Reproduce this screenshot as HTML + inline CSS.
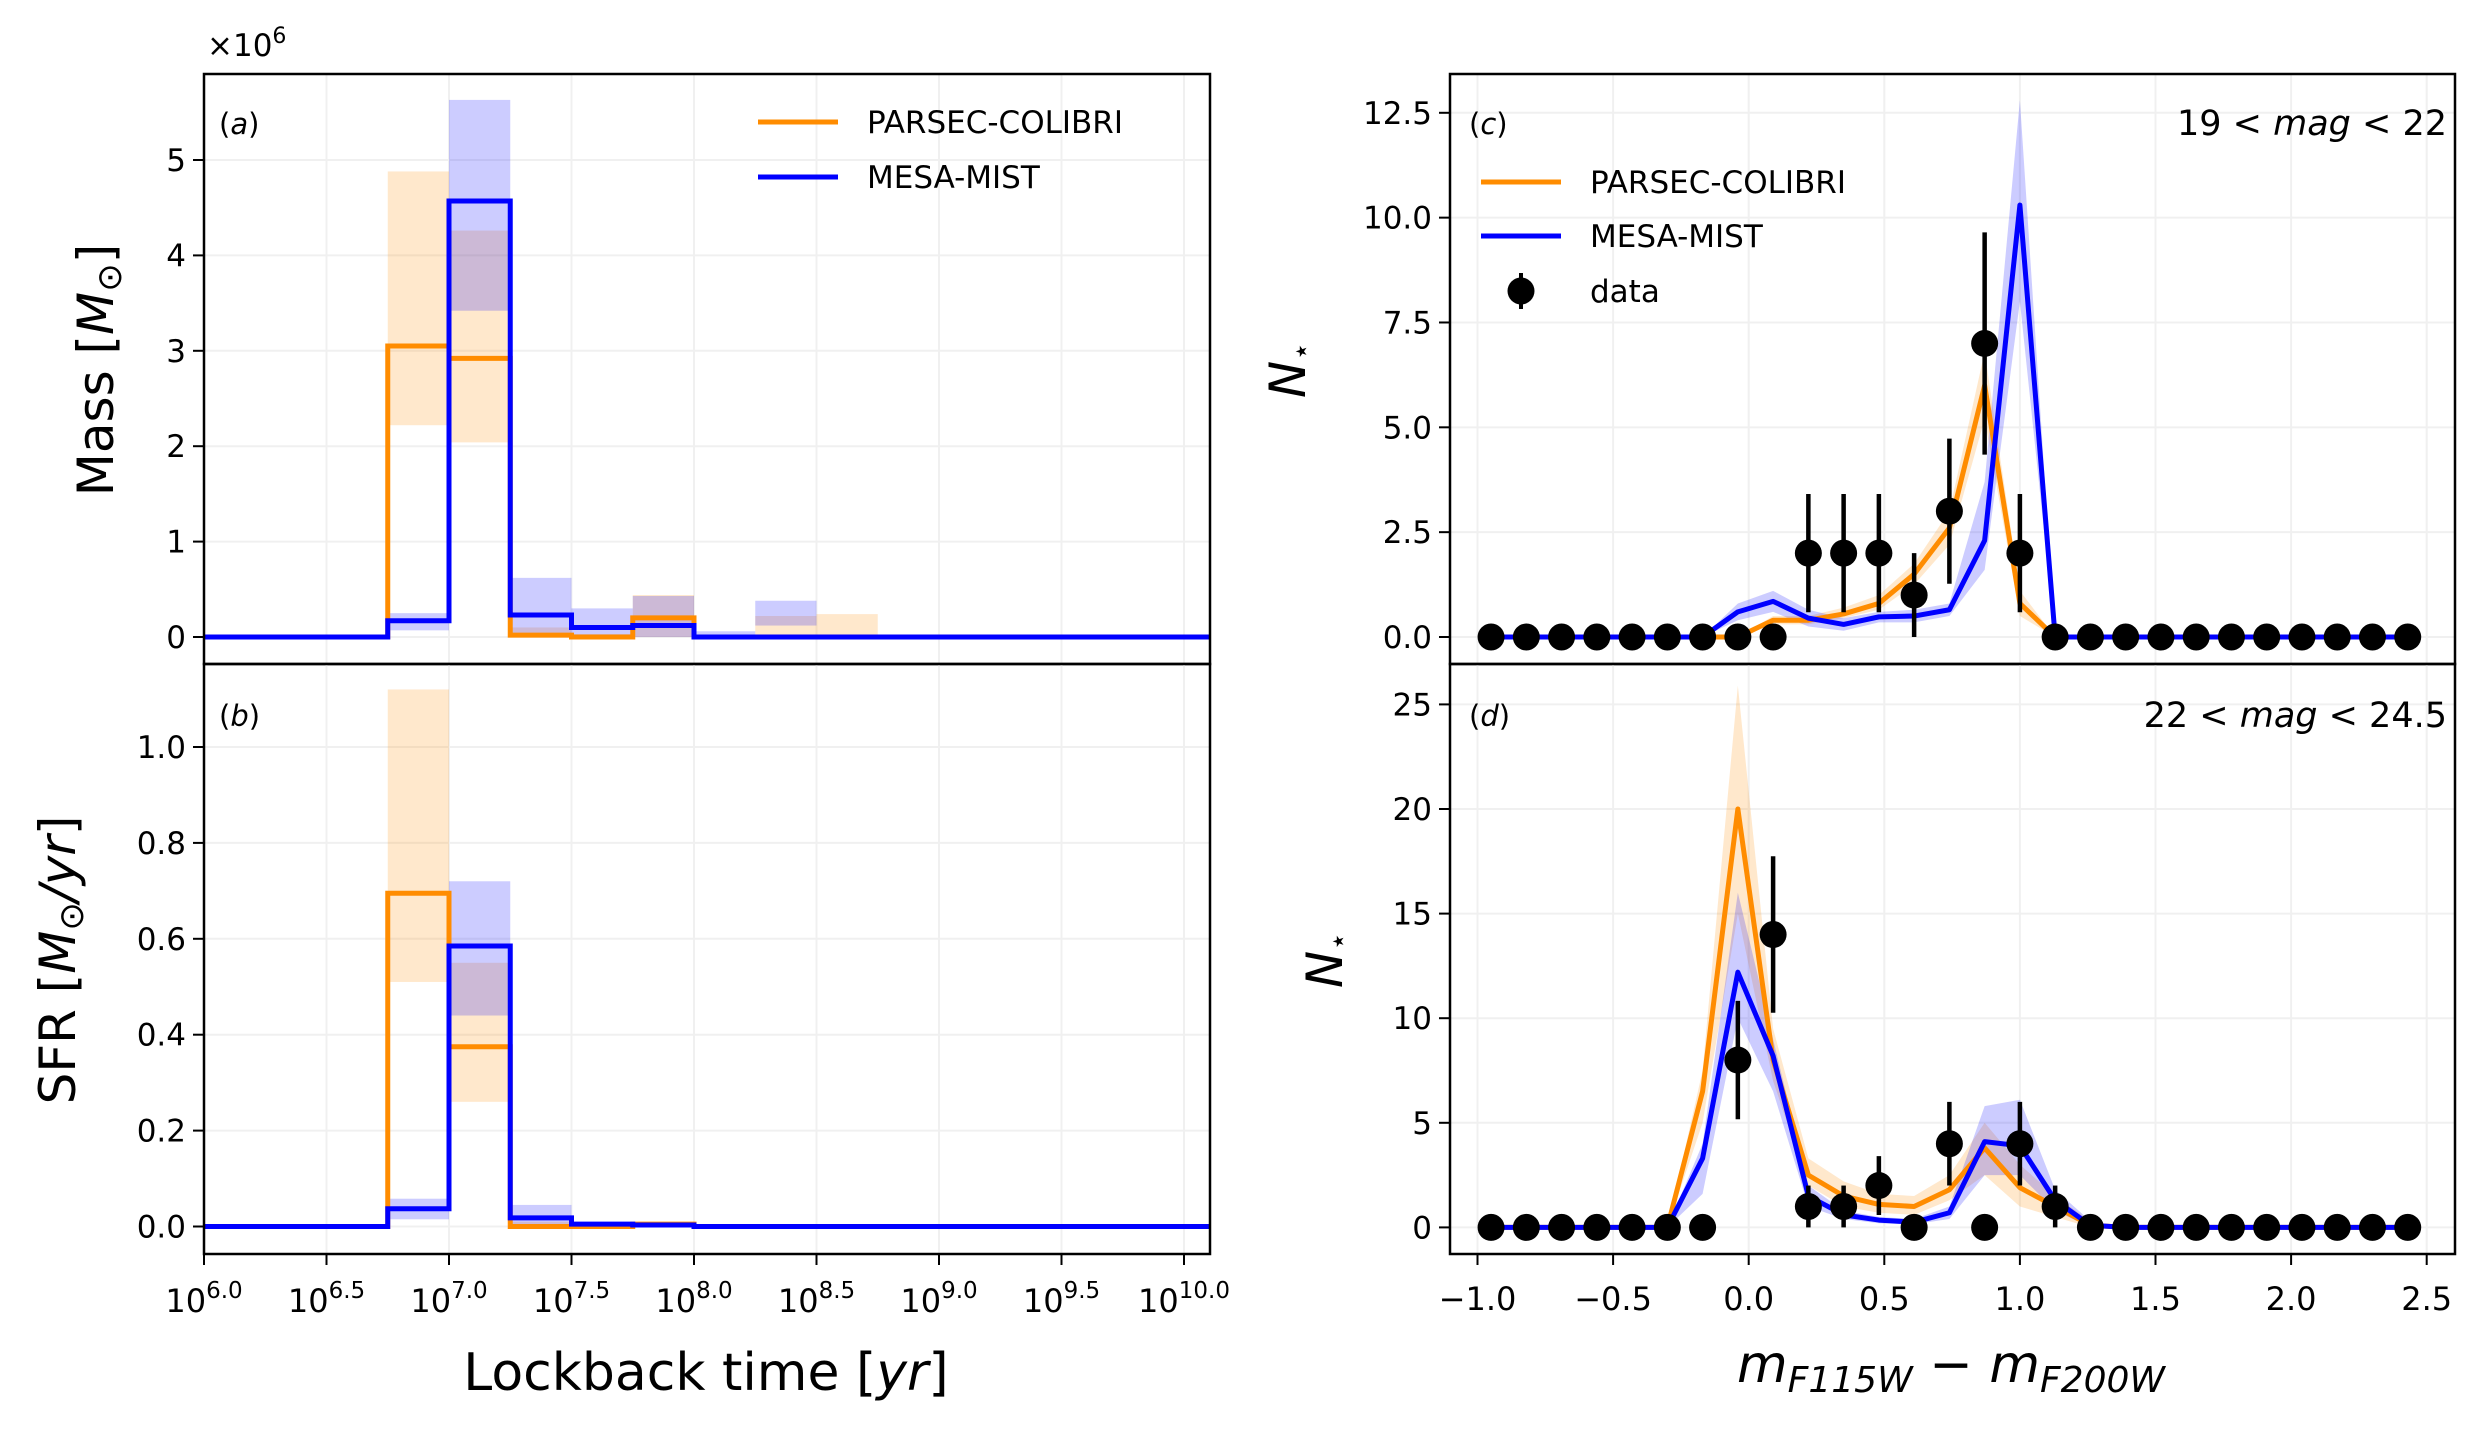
<!DOCTYPE html>
<html><head><meta charset="utf-8"><style>
body{margin:0;background:#fff}
svg{display:block;font-family:"DejaVu Sans","Liberation Sans",sans-serif}
</style></head><body>
<svg id="fig" width="2490" height="1432" viewBox="0 0 2490 1432" xmlns="http://www.w3.org/2000/svg"></svg>
<script>
// ---- Left panels data (log10 bin edges) ----
const binLo = [6.75, 7.0, 7.25, 7.5, 7.75, 8.0, 8.25, 8.5];
const binHi = [7.0, 7.25, 7.5, 7.75, 8.0, 8.25, 8.5, 8.75];
const massOrange = [3.05, 2.92, 0.02, 0.0, 0.2, 0.0, 0.0, 0.0];
const massOrangeLo = [2.22, 2.04, 0.0, 0.0, 0.0, 0.0, 0.0, 0.0];
const massOrangeHi = [4.88, 4.26, 0.1, 0.03, 0.44, 0.02, 0.22, 0.24];
const massBlue = [0.17, 4.57, 0.23, 0.1, 0.12, 0.0, 0.0, 0.0];
const massBlueLo = [0.07, 3.42, 0.0, 0.0, 0.0, 0.0, 0.12, 0.0];
const massBlueHi = [0.25, 5.63, 0.62, 0.3, 0.43, 0.06, 0.38, 0.0];
const sfrOrange = [0.695, 0.375, 0.0, 0.0, 0.005, 0.0, 0.0, 0.0];
const sfrOrangeLo = [0.51, 0.26, 0.0, 0.0, 0.0, 0.0, 0.0, 0.0];
const sfrOrangeHi = [1.12, 0.55, 0.01, 0.005, 0.01, 0.0, 0.0, 0.0];
const sfrBlue = [0.037, 0.585, 0.018, 0.005, 0.003, 0.0, 0.0, 0.0];
const sfrBlueLo = [0.015, 0.44, 0.0, 0.0, 0.0, 0.0, 0.0, 0.0];
const sfrBlueHi = [0.058, 0.72, 0.045, 0.01, 0.006, 0.0, 0.0, 0.0];
// ---- Right panels data ----
const colorX = [-0.95,-0.82,-0.69,-0.56,-0.43,-0.30,-0.17,-0.04,0.09,0.22,0.35,0.48,0.61,0.74,0.87,1.00,1.13,1.26,1.39,1.52,1.65,1.78,1.91,2.04,2.17,2.30,2.43];
const cData = [0,0,0,0,0,0,0,0,0,2,2,2,1,3,7,2,0,0,0,0,0,0,0,0,0,0,0];
const cErr  = [0,0,0,0,0,0,0,0,0,1.41,1.41,1.41,1,1.73,2.65,1.41,0,0,0,0,0,0,0,0,0,0,0];
const cOrange   = [0,0,0,0,0,0,0,0,0.4,0.4,0.55,0.8,1.5,2.6,6.0,0.8,0,0,0,0,0,0,0,0,0,0,0];
const cOrangeLo = [0,0,0,0,0,0,0,0,0.3,0.3,0.45,0.65,1.25,2.2,5.2,0.5,0,0,0,0,0,0,0,0,0,0,0];
const cOrangeHi = [0,0,0,0,0,0,0,0,0.5,0.5,0.7,1.0,1.75,3.0,6.8,1.1,0,0,0,0,0,0,0,0,0,0,0];
const cBlue   = [0,0,0,0,0,0,0,0.6,0.85,0.45,0.3,0.48,0.5,0.65,2.3,10.3,0,0,0,0,0,0,0,0,0,0,0];
const cBlueLo = [0,0,0,0,0,0,0,0.4,0.6,0.25,0.15,0.35,0.35,0.5,1.6,8.0,0,0,0,0,0,0,0,0,0,0,0];
const cBlueHi = [0,0,0,0,0,0,0,0.8,1.1,0.65,0.45,0.6,0.65,0.8,3.7,12.8,0,0,0,0,0,0,0,0,0,0,0];
const dData = [0,0,0,0,0,0,0,8,14,1,1,2,0,4,0,4,1,0,0,0,0,0,0,0,0,0,0];
const dErr  = [0,0,0,0,0,0,0,2.83,3.74,1,1,1.41,0,2,0,2,1,0,0,0,0,0,0,0,0,0,0];
const dOrange   = [0,0,0,0,0,0,6.5,20,8,2.5,1.5,1.1,1.0,1.8,3.8,1.9,1.0,0.1,0,0,0,0,0,0,0,0,0];
const dOrangeLo = [0,0,0,0,0,0,5,15,7,2,1.0,0.7,0.6,1.3,2.5,1.0,0.5,0,0,0,0,0,0,0,0,0,0];
const dOrangeHi = [0,0,0,0,0,0,7.5,25.9,9.5,3.3,2.2,1.6,1.5,2.5,5.0,3.0,1.5,0.3,0,0,0,0,0,0,0,0,0];
const dBlue   = [0,0,0,0,0,0,3.3,12.2,8.2,1.5,0.6,0.35,0.25,0.7,4.1,3.9,1.3,0.1,0,0,0,0,0,0,0,0,0];
const dBlueLo = [0,0,0,0,0,0,1.6,10,6.5,1.0,0.4,0.2,0.15,0.4,2.5,2.5,0.8,0,0,0,0,0,0,0,0,0,0];
const dBlueHi = [0,0,0,0,0,0,4,16,9,2.0,0.8,0.5,0.4,1.0,5.8,6.1,1.8,0.3,0,0,0,0,0,0,0,0,0];
const logTicks = [6.0,6.5,7.0,7.5,8.0,8.5,9.0,9.5,10.0];
const massTicks = [0,1,2,3,4,5];
const sfrTicks = [0.0,0.2,0.4,0.6,0.8,1.0];
const colTicks = [-1.0,-0.5,0.0,0.5,1.0,1.5,2.0,2.5];
const cTicks = [0.0,2.5,5.0,7.5,10.0,12.5];
const dTicks = [0,5,10,15,20,25];

const NS="http://www.w3.org/2000/svg";
const svg=document.getElementById('fig');
function el(tag,attrs,parent){const e=document.createElementNS(NS,tag);for(const k in attrs)e.setAttribute(k,attrs[k]);(parent||svg).appendChild(e);return e;}
function lin(d0,d1,r0,r1){return v=>r0+(v-d0)*(r1-r0)/(d1-d0);}
const OR='#ff8c00',BL='#0000ff',LW=5;
const LX0=204,LX1=1210,RX0=1450,RX1=2455,TY0=74,TMID=664,TY1=1254;
const xL=lin(6,10,204,1184), xR=lin(-1,2.5,1477.5,2426.7);
const yA=lin(0,5,637,160), yB=lin(0,1,1226.5,747), yC=lin(0,12.5,637,112.8), yD=lin(0,20,1227.4,809);

function panel(name,x0,x1,y0,y1,xs,xt,ys,yt,fmtY,showX,fmtX){
  const g=el('g',{});
  
  const grid=el('g',{},g);
  xt.forEach(t=>{const x=xs(t);if(x>=x0&&x<=x1)el('line',{x1:x,x2:x,y1:y0,y2:y1,stroke:'#f0f0f0','stroke-width':2},grid);});
  yt.forEach(t=>{const y=ys(t);el('line',{x1:x0,x2:x1,y1:y,y2:y,stroke:'#f0f0f0','stroke-width':2},grid);
    el('line',{x1:x0-11,x2:x0,y1:y,y2:y,stroke:'#000','stroke-width':2},g);
    const tx=el('text',{x:x0-18,y:y+11,'font-size':31,'text-anchor':'end'},g);tx.textContent=fmtY(t);
    });
  if(showX){xt.forEach(t=>{const x=xs(t);el('line',{x1:x,x2:x,y1:y1,y2:y1+11,stroke:'#000','stroke-width':2},g);fmtX(t,x,y1,g);});}
  return g;
}
function frame(g,x0,x1,y0,y1){const r=el('rect',{x:x0,y:y0,width:x1-x0,height:y1-y0,fill:'none',stroke:'#000','stroke-width':2.5},g);}
function clip(id,x0,x1,y0,y1){const c=el('clipPath',{id:id});el('rect',{x:x0,y:y0,width:x1-x0,height:y1-y0},c);}
clip('ca',LX0,LX1,TY0,TMID);clip('cb',LX0,LX1,TMID,TY1);clip('cc',RX0,RX1,TY0,TMID);clip('cd',RX0,RX1,TMID,TY1);

function logLabel(t,x,y1,g){const tx=el('text',{x:x,y:y1+58,'font-size':32,'text-anchor':'middle'},g);
  
  const a=el('tspan',{},tx);a.textContent='10';const b=el('tspan',{'font-size':23,dy:-14},tx);b.textContent=t.toFixed(1);}
function numLabel(t,x,y1,g){const tx=el('text',{x:x,y:y1+56,'font-size':32,'text-anchor':'middle'},g);
  
  tx.textContent=(t<0?'\u2212':'')+Math.abs(t).toFixed(1);}

function histPanel(name,cid,ys,vO,loO,hiO,vB,loB,hiB,yt,fmt,y0,y1,showX){
  const g=panel(name,LX0,LX1,y0,y1,xL,logTicks,ys,yt,fmt,showX,logLabel);
  const cg=el('g',{'clip-path':'url(#'+cid+')'},g);
  [[loO,hiO,OR,'orange'],[loB,hiB,BL,'blue']].forEach(([lo,hi,c,n])=>{
    binLo.forEach((b,i)=>{if(hi[i]>lo[i]){const r=el('rect',{x:xL(b),width:xL(binHi[i])-xL(b),y:ys(hi[i]),height:ys(lo[i])-ys(hi[i]),fill:c,'fill-opacity':0.2},cg);
      }});});
  [[vO,OR,'parsec-colibri-step'],[vB,BL,'mesa-mist-step']].forEach(([v,c,n])=>{
    let d='M'+xL(5)+','+ys(0)+' L'+xL(binLo[0])+','+ys(0);
    binLo.forEach((b,i)=>{d+=' L'+xL(b)+','+ys(v[i])+' L'+xL(binHi[i])+','+ys(v[i]);});
    d+=' L'+xL(binHi[binHi.length-1])+','+ys(0)+' L'+xL(11)+','+ys(0);
    const p=el('path',{d:d,fill:'none',stroke:c,'stroke-width':LW},cg);});
  frame(g,LX0,LX1,y0,y1);return g;
}
histPanel('panel-a-mass','ca',yA,massOrange,massOrangeLo,massOrangeHi,massBlue,massBlueLo,massBlueHi,massTicks,t=>String(t),TY0,TMID,false);
histPanel('panel-b-sfr','cb',yB,sfrOrange,sfrOrangeLo,sfrOrangeHi,sfrBlue,sfrBlueLo,sfrBlueHi,sfrTicks,t=>t.toFixed(1),TMID,TY1,true);

function cmdPanel(name,cid,ys,dat,err,vO,loO,hiO,vB,loB,hiB,yt,fmt,y0,y1,showX){
  const g=panel(name,RX0,RX1,y0,y1,xR,colTicks,ys,yt,fmt,showX,numLabel);
  const cg=el('g',{'clip-path':'url(#'+cid+')'},g);
  [[loO,hiO,OR,'orange'],[loB,hiB,BL,'blue']].forEach(([lo,hi,c,n])=>{
    let d='M'+colorX.map((x,i)=>xR(x)+','+ys(hi[i])).join(' L');
    for(let i=colorX.length-1;i>=0;i--)d+=' L'+xR(colorX[i])+','+ys(lo[i]);d+='Z';
    const p=el('path',{d:d,fill:c,'fill-opacity':0.2},cg);});
  [[vO,OR,'parsec-colibri-line'],[vB,BL,'mesa-mist-line']].forEach(([v,c,n])=>{
    const p=el('polyline',{points:colorX.map((x,i)=>xR(x)+','+ys(v[i])).join(' '),fill:'none',stroke:c,'stroke-width':LW,'stroke-linejoin':'round'},cg);
    });
  colorX.forEach((x,i)=>{
    if(err[i]>0){const l=el('line',{x1:xR(x),x2:xR(x),y1:ys(dat[i]-err[i]),y2:ys(dat[i]+err[i]),stroke:'#000','stroke-width':4.5},cg);
      }
    const c=el('circle',{cx:xR(x),cy:ys(dat[i]),r:13.5,fill:'#000'},cg);});
  frame(g,RX0,RX1,y0,y1);return g;
}
cmdPanel('panel-c-counts','cc',yC,cData,cErr,cOrange,cOrangeLo,cOrangeHi,cBlue,cBlueLo,cBlueHi,cTicks,t=>t.toFixed(1),TY0,TMID,false);
cmdPanel('panel-d-counts','cd',yD,dData,dErr,dOrange,dOrangeLo,dOrangeHi,dBlue,dBlueLo,dBlueHi,dTicks,t=>String(t),TMID,TY1,true);

function txt(name,x,y,size,anchor,html,rot){const t=el('text',{x:x,y:y,'font-size':size,'text-anchor':anchor});
  if(rot)t.setAttribute('transform','rotate(-90 '+x+' '+y+')');t.innerHTML=html;return t;}
txt('offset-label',207,56,31,'start','×10<tspan font-size="22" dy="-13">6</tspan>');
txt('panel-label-a',219,134,29,'start','(<tspan font-style="italic">a</tspan>)');
txt('panel-label-b',219,726,29,'start','(<tspan font-style="italic">b</tspan>)');
txt('panel-label-c',1469,134,29,'start','(<tspan font-style="italic">c</tspan>)');
txt('panel-label-d',1469,726,29,'start','(<tspan font-style="italic">d</tspan>)');
txt('mag-range-c',2447,135,35,'end','19 &lt; <tspan font-style="italic">mag</tspan> &lt; 22');
txt('mag-range-d',2447,727,35,'end','22 &lt; <tspan font-style="italic">mag</tspan> &lt; 24.5');
txt('y-axis-title-mass',113,370,50,'middle','Mass [<tspan font-style="italic">M</tspan><tspan font-size="34" dy="8">⊙</tspan><tspan dy="-8">]</tspan>',true);
txt('y-axis-title-sfr',75,960,50,'middle','SFR [<tspan font-style="italic">M</tspan><tspan font-size="34" dy="8">⊙</tspan><tspan dy="-8" font-style="italic">/yr</tspan>]',true);
txt('y-axis-title-c',1305,370,50,'middle','<tspan font-style="italic">N</tspan><tspan font-size="30" dy="6">⋆</tspan>',true);
txt('y-axis-title-d',1342,960,50,'middle','<tspan font-style="italic">N</tspan><tspan font-size="30" dy="6">⋆</tspan>',true);
txt('x-axis-title-left',706,1390,52,'middle','Lockback time [<tspan font-style="italic">yr</tspan>]');
txt('x-axis-title-right',1951,1382,52,'middle','<tspan font-style="italic">m</tspan><tspan font-size="36" dy="10" font-style="italic">F115W</tspan><tspan dy="-10"> − </tspan><tspan font-style="italic">m</tspan><tspan font-size="36" dy="10" font-style="italic">F200W</tspan>');
function legLine(name,x,y,c,label){const g=el('g',{});
  el('line',{x1:x,x2:x+80,y1:y,y2:y,stroke:c,'stroke-width':LW},g);const t=el('text',{x:x+109,y:y+11,'font-size':31},g);t.textContent=label;}
legLine('legend-entry-parsec-a',758,122,OR,'PARSEC-COLIBRI');
legLine('legend-entry-mist-a',758,177,BL,'MESA-MIST');
legLine('legend-entry-parsec-c',1481,182,OR,'PARSEC-COLIBRI');
legLine('legend-entry-mist-c',1481,236,BL,'MESA-MIST');
const lg=el('g',{});
el('line',{x1:1521,x2:1521,y1:273,y2:309,stroke:'#000','stroke-width':4},lg);el('circle',{cx:1521,cy:291,r:13.5,fill:'#000'},lg);
const lt=el('text',{x:1590,y:302,'font-size':31},lg);lt.textContent='data';
</script>
</body></html>
